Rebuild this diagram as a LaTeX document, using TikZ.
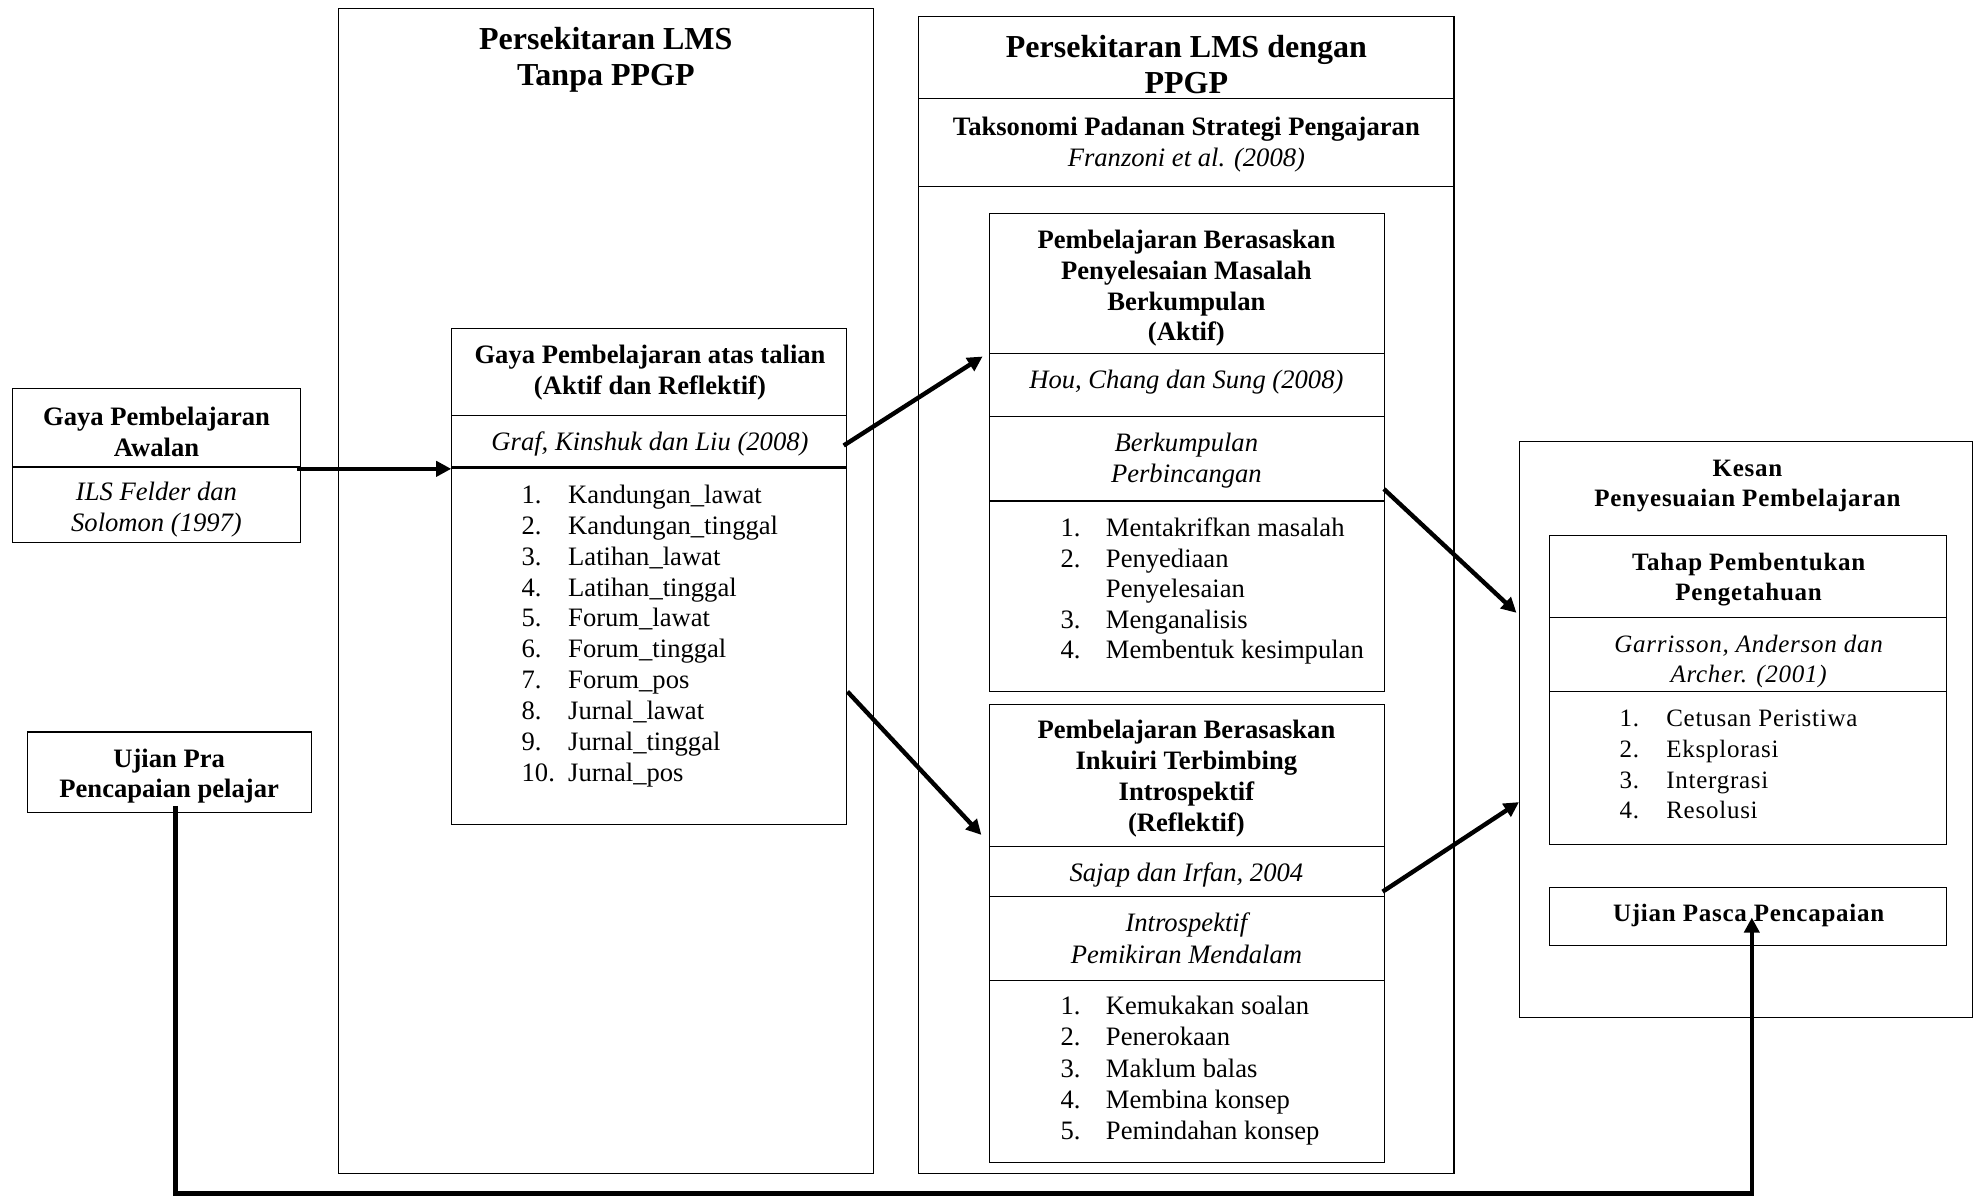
\documentclass[tikz,border=0pt]{standalone}
\usepackage{fontspec}
\setmainfont{Liberation Serif}
\newfontfamily\widefont[LetterSpace=3]{Liberation Serif}
\usetikzlibrary{arrows.meta,fit,calc}
\begin{document}
\begin{tikzpicture}[x=0.631pt,y=-0.631pt,
  box/.style={draw, line width=0.6pt, inner sep=0pt, fit={#1}},
  body/.style={inner sep=0pt, align=center, yshift=-1.2pt, font=\fontsize{13.3}{15.4}\selectfont},
  hd/.style={inner sep=0pt, align=center, yshift=-1.2pt, font=\bfseries\fontsize{13.3}{15.4}\selectfont},
  cite/.style={inner sep=0pt, align=center, yshift=-1.2pt, font=\itshape\fontsize{13.3}{15.6}\selectfont},
  ttl/.style={inner sep=0pt, align=center, font=\bfseries\fontsize{16}{18.3}\selectfont},
  lst/.style={inner sep=0pt, align=left, anchor=west, yshift=-1.2pt, font=\fontsize{13.3}{#1}\selectfont},
  whd/.style={inner sep=0pt, align=center, yshift=-1.3pt, font=\widefont\bfseries\fontsize{12.5}{15.1}\selectfont},
  wcite/.style={inner sep=0pt, align=center, yshift=-1.3pt, font=\widefont\itshape\fontsize{12.5}{15.1}\selectfont},
  wlst/.style={inner sep=0pt, align=left, anchor=west, yshift=-0.8pt, font=\widefont\fontsize{12.5}{15.35}\selectfont},
  arr/.style={line width=2.2pt, -{Triangle[length=7.5pt,width=7.5pt]}}
]
\useasboundingbox (0,0) rectangle (1568,948);

% containers
\node[box={(268,7) (692,930)}] (L) {};
\node[box={(728,13) (1152,930)}] (M) {};
\node[box={(728,78) (1152,148)}] (Tak) {};
\node[box={(1204,350) (1563,806)}] (K) {};

% box A
\node[box={(10,308) (238,370)}] (A1) {};
\node[box={(10,370) (238,430)}] (A2) {};
% box B
\node[box={(22,580) (247,644)}] (B) {};
% box C
\node[box={(358,260) (671,329)}] (C1) {};
\node[box={(358,329) (671,371)}] (C2) {};
\node[box={(358,371) (671,653)}] (C3) {};
\draw[line width=1.3pt] (C3.north west) -- (C3.north east);
% box D
\node[box={(784,169) (1097,280)}] (D1) {};
\node[box={(784,280) (1097,330)}] (D2) {};
\node[box={(784,330) (1097,397)}] (D3) {};
\node[box={(784,397) (1097,548)}] (D4) {};
% box E
\node[box={(784,558) (1097,671)}] (E1) {};
\node[box={(784,671) (1097,710)}] (E2) {};
\node[box={(784,710) (1097,777)}] (E3) {};
\node[box={(784,777) (1097,921)}] (E4) {};
% box F, G
\node[box={(1228,424) (1542,489)}] (F1) {};
\node[box={(1228,489) (1542,548)}] (F2) {};
\node[box={(1228,548) (1542,669)}] (F3) {};
\node[box={(1228,703) (1542,749)}] (G) {};

% texts
\node[ttl] (Lt) at (480,47.5) {Persekitaran LMS\\Tanpa PPGP};
\node[ttl] (Mt) at (940,51) {Persekitaran LMS dengan\\PPGP};
\node[body] (Tt) at (940,112.5) {\textbf{Taksonomi Padanan Strategi Pengajaran}\\\textit{Franzoni et al. (2008)}};

\node[hd] (A1t) at (124,340) {Gaya Pembelajaran\\Awalan};
\node[cite] (A2t) at (124,402) {ILS Felder dan\\Solomon (1997)};
\node[hd] (Bt) at (134,613) {Ujian Pra\\Pencapaian pelajar};

\node[hd] (C1t) at (515,293) {Gaya Pembelajaran atas talian\\(Aktif dan Reflektif)};
\node[cite] (C2t) at (515,350) {Graf, Kinshuk dan Liu (2008)};
\node[lst=15.4pt] (C3t) at (413,502) {%
\makebox[23.3pt][l]{1.}Kandungan\_lawat\\
\makebox[23.3pt][l]{2.}Kandungan\_tinggal\\
\makebox[23.3pt][l]{3.}Latihan\_lawat\\
\makebox[23.3pt][l]{4.}Latihan\_tinggal\\
\makebox[23.3pt][l]{5.}Forum\_lawat\\
\makebox[23.3pt][l]{6.}Forum\_tinggal\\
\makebox[23.3pt][l]{7.}Forum\_pos\\
\makebox[23.3pt][l]{8.}Jurnal\_lawat\\
\makebox[23.3pt][l]{9.}Jurnal\_tinggal\\
\makebox[23.3pt][l]{10.}Jurnal\_pos};

\node[hd] (D1t) at (940,226.5) {Pembelajaran Berasaskan\\Penyelesaian Masalah\\Berkumpulan\\(Aktif)};
\node[cite] (D2t) at (940,300.5) {Hou, Chang dan Sung (2008)};
\node[cite] (D3t) at (940,363) {Berkumpulan\\Perbincangan};
\node[lst=15.3pt] (D4t) at (840,466.5) {%
\makebox[22.7pt][l]{1.}Mentakrifkan masalah\\
\makebox[22.7pt][l]{2.}Penyediaan\\
\makebox[22.7pt][l]{}Penyelesaian\\
\makebox[22.7pt][l]{3.}Menganalisis\\
\makebox[22.7pt][l]{4.}Membentuk kesimpulan};

\node[hd] (E1t) at (940,615) {Pembelajaran Berasaskan\\Inkuiri Terbimbing\\Introspektif\\(Reflektif)};
\node[cite] (E2t) at (940,691) {Sajap dan Irfan, 2004};
\node[cite] (E3t) at (940,741.5) {Introspektif\\Pemikiran Mendalam};
\node[lst=15.6pt] (E4t) at (840,846.5) {%
\makebox[22.7pt][l]{1.}Kemukakan soalan\\
\makebox[22.7pt][l]{2.}Penerokaan\\
\makebox[22.7pt][l]{3.}Maklum balas\\
\makebox[22.7pt][l]{4.}Membina konsep\\
\makebox[22.7pt][l]{5.}Pemindahan konsep};

\node[whd] (Kt) at (1384.5,383) {Kesan\\Penyesuaian Pembelajaran};
\node[whd] (F1t) at (1385.5,457) {Tahap Pembentukan\\Pengetahuan};
\node[wcite] (F2t) at (1385.5,522) {Garrisson, Anderson dan\\Archer. (2001)};
\node[wlst] (F3t) at (1283,604.5) {%
\makebox[23.3pt][l]{1.}Cetusan Peristiwa\\
\makebox[23.3pt][l]{2.}Eksplorasi\\
\makebox[23.3pt][l]{3.}Intergrasi\\
\makebox[23.3pt][l]{4.}Resolusi};
\node[whd] (Gt) at (1385.5,723) {Ujian Pasca Pencapaian};

% connectors
\draw[arr] ($(A1.south east)+(-3,1)$) -- (C2.south west);
\draw[arr] ($(C2.east)+(-3,3)$) -- ($(D1.south west)+(-5,2)$);
\draw[arr] ($(C3.east)+(0,36)$) -- ($(E1.south west)+(-6,-10)$);
\draw[arr] ($(D3.south east)+(-1,-10)$) -- ($(K.north west)+(-2,136)$);
\draw[arr] ($(E2.south east)+(-2,-4)$) -- ($(K.north west)+(0,286)$);
\draw[arr] ($(B.south)+(4.5,-6)$) -- ($(B.south)+(4.5,301)$) -| ($(G.center)+(3,1)$);
\end{tikzpicture}
\end{document}
